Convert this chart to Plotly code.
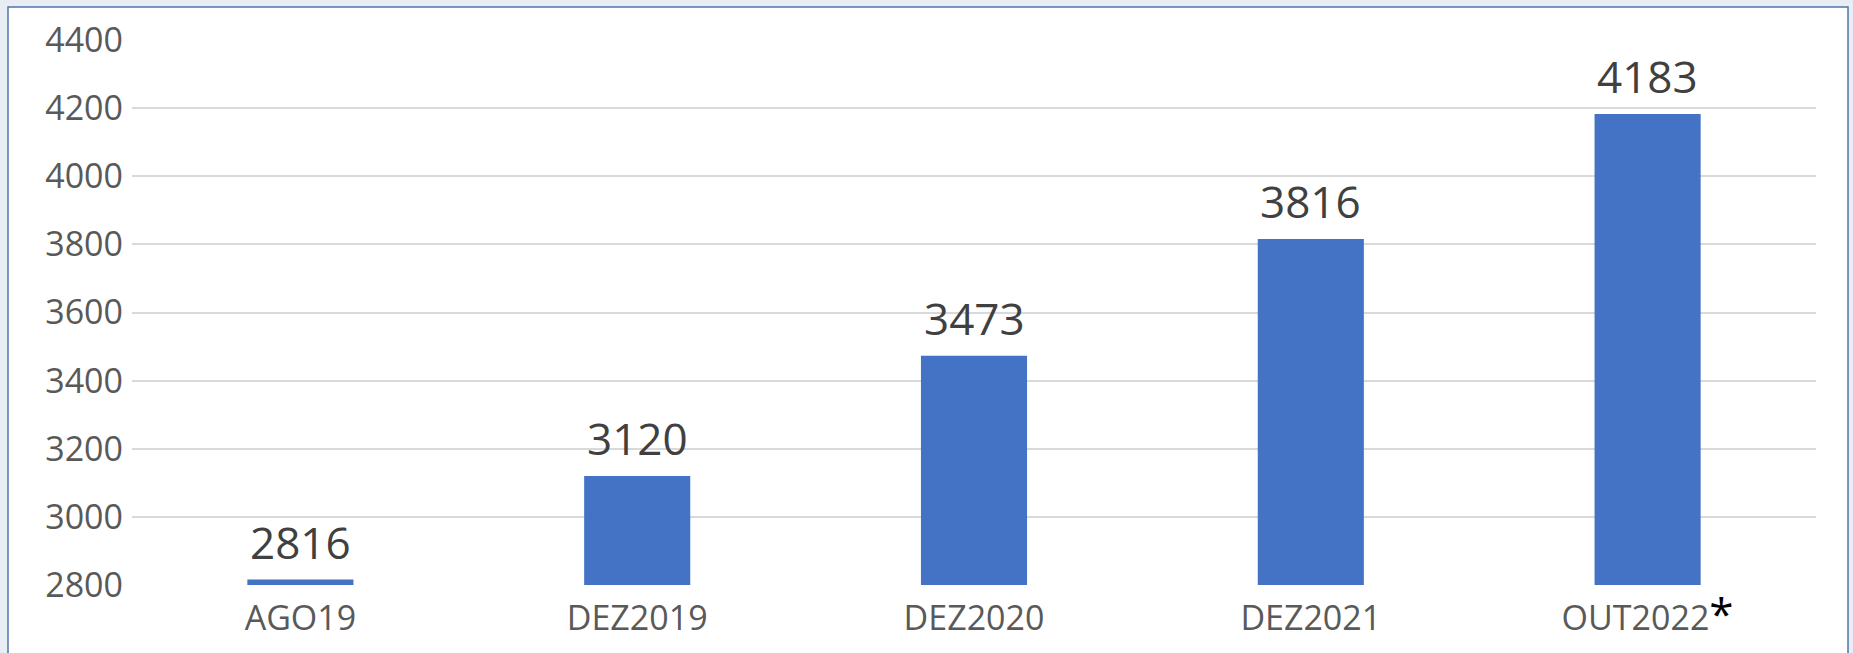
import plotly.graph_objects as go

categories = ["AGO19", "DEZ2019", "DEZ2020", "DEZ2021", "OUT2022"]
values = [2816, 3120, 3473, 3816, 4183]
tick_labels = ["AGO19", "DEZ2019", "DEZ2020", "DEZ2021",
               "OUT2022<span style='color:#000000;font-size:44px'>*</span>"]
y_ticks = [2800, 3000, 3200, 3400, 3600, 3800, 4000, 4200, 4400]

W, H = 1853, 653
ml, mr, mt, mb = 132, 37, 40, 68
pw, ph = W - ml - mr, H - mt - mb

def px_to_paper_x(px):
    return (px - ml) / pw

def px_to_paper_y(py):
    return (H - mb - py) / ph

fig = go.Figure()
fig.add_trace(go.Bar(
    x=categories, y=values,
    marker=dict(color="#4472C4", line=dict(width=0)),
    hoverinfo="x+y",
))

for c, v in zip(categories, values):
    fig.add_annotation(x=c, y=v, text=str(v), showarrow=False,
                       yanchor="bottom", yshift=6,
                       font=dict(size=44, color="#404040", family="Open Sans"))

fig.add_shape(type="rect", xref="paper", yref="paper", layer="below",
              x0=px_to_paper_x(8), x1=px_to_paper_x(1848),
              y0=px_to_paper_y(700), y1=px_to_paper_y(7),
              fillcolor="#FFFFFF", line=dict(color="#4F74AD", width=1.5))

fig.update_layout(
    width=W, height=H,
    margin=dict(l=ml, r=mr, t=mt, b=mb, autoexpand=False),
    paper_bgcolor="#E9EEF4",
    plot_bgcolor="rgba(0,0,0,0)",
    bargap=0.685,
    showlegend=False,
    font=dict(family="Open Sans", color="#595959"),
)
fig.update_xaxes(
    tickvals=categories, ticktext=tick_labels,
    tickfont=dict(size=34, color="#595959"),
    showgrid=False, showline=False, zeroline=False,
    ticks="", ticklen=0, ticklabelstandoff=10, automargin=False,
)
fig.update_yaxes(
    range=[2800, 4400], tickvals=y_ticks,
    tickfont=dict(size=34, color="#595959"),
    showgrid=True, gridcolor="#D9D9D9", gridwidth=2,
    showline=False, zeroline=False, ticks="", ticklen=0,
    ticklabelstandoff=8, automargin=False,
)

fig.write_html(
    "out.html",
    config={"displayModeBar": False},
    post_script="document.body.style.margin='0';document.body.style.overflow='hidden';document.body.style.background='#E9EEF4';",
)
